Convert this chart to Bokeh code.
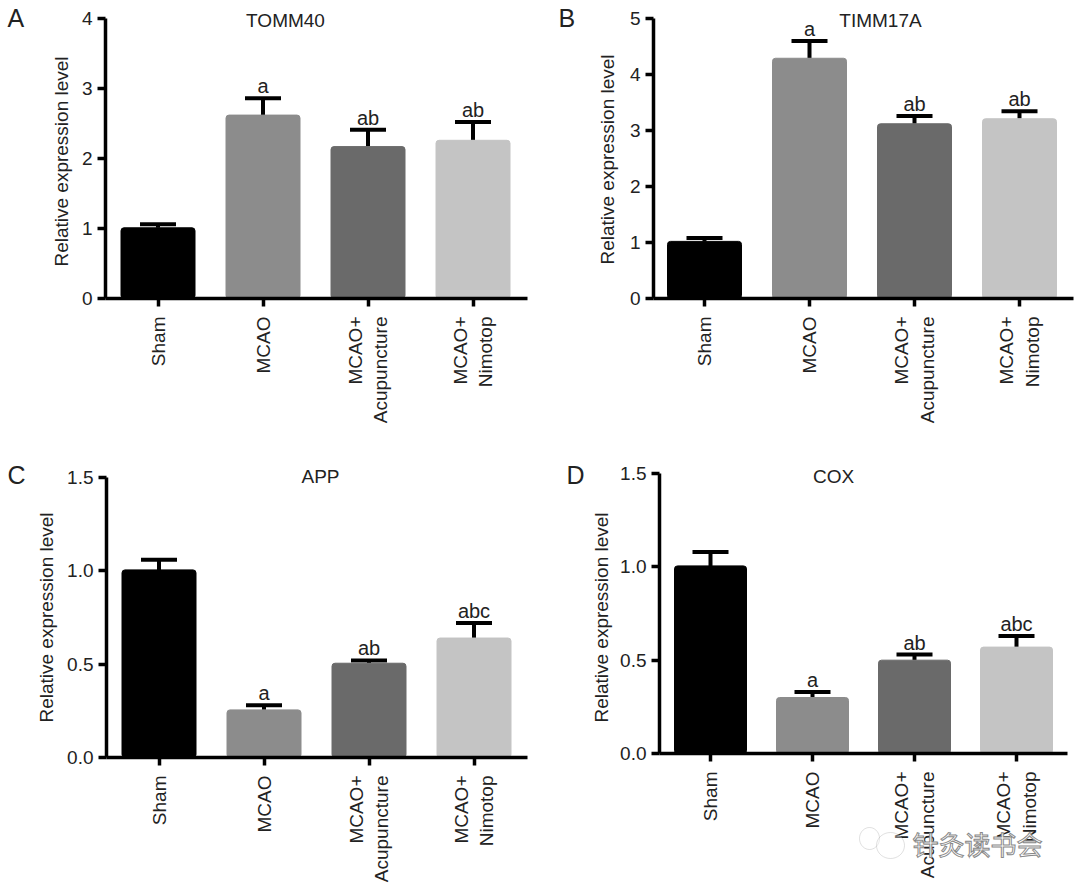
from bokeh.plotting import figure
from bokeh.layouts import column, row
from bokeh.models import Range1d, FixedTicker, Label, Whisker, TeeHead, ColumnDataSource, PolyAnnotation
from bokeh.core.properties import value
from bokeh.embed import file_html
from bokeh.resources import INLINE
import math

categories = ["Sham", "MCAO", "MCAO+\nAcupuncture", "MCAO+\nNimotop"]
positions = [1, 2, 3, 4]
bar_colors = ["#000000", "#8c8c8c", "#6a6a6a", "#c4c4c4"]

values_a = [1.01, 2.62, 2.17, 2.26]
tops_a = [1.06, 2.86, 2.41, 2.52]
marks_a = ["", "a", "ab", "ab"]
ticks_a = [0, 1, 2, 3, 4]

values_b = [1.02, 4.29, 3.12, 3.21]
tops_b = [1.08, 4.6, 3.26, 3.345]
marks_b = ["", "a", "ab", "ab"]
ticks_b = [0, 1, 2, 3, 4, 5]

values_c = [1.005, 0.255, 0.505, 0.64]
tops_c = [1.06, 0.28, 0.52, 0.72]
marks_c = ["", "a", "ab", "abc"]
ticks_c = [0, 0.5, 1.0, 1.5]

values_d = [1.005, 0.3, 0.5, 0.57]
tops_d = [1.08, 0.33, 0.53, 0.63]
marks_d = ["", "a", "ab", "abc"]
ticks_d = [0, 0.5, 1.0, 1.5]

FONT = "Liberation Sans"
INK = "#222222"
SIZE = "19px"


def panel(letter, title, vals, tops, marks, ticks, fmt, box, axis_x, x_end, y0, y_top,
          first_c, step, bar_px, title_xy, letter_xy, ylabel_xy):
    L, T, R, B = box
    vmax = ticks[-1]
    ppu = (y0 - y_top) / vmax

    def dx(px):
        return 1 + (px - first_c) / step

    def dy(py):
        return (y0 - py) / ppu

    p = figure(width=R - L, height=B - T, output_backend="svg", toolbar_location=None,
               min_border=0, x_range=Range1d(dx(L), dx(R)), y_range=Range1d(dy(B), dy(T)))
    p.grid.visible = False
    p.outline_line_color = None
    p.background_fill_color = "white"

    src = ColumnDataSource(dict(x=positions, v=vals, t=tops, m=marks, c=bar_colors))
    p.vbar(x="x", top="v", bottom=0, width=bar_px / step, fill_color="c", line_color="c",
           border_radius=3, source=src)
    p.add_layout(Whisker(base="x", upper="t", lower="v", source=src, line_color="black", line_width=4,
                         upper_head=TeeHead(size=36, line_width=4, line_color="black"), lower_head=None))
    p.text(x="x", y="t", text="m", source=src, text_align="center", text_baseline="alphabetic",
           y_offset=-12, text_font=value(FONT), text_font_size="20px", text_color=INK)

    ax = p.xaxis[0]
    ax.fixed_location = 0
    ax.bounds = (dx(axis_x), dx(x_end))
    ax.ticker = FixedTicker(ticks=positions)
    ax.major_label_overrides = dict(zip(positions, categories))
    ax.major_label_orientation = math.pi / 2
    ax.major_label_standoff = 10
    ax.major_label_text_font = FONT
    ax.major_label_text_font_size = SIZE
    ax.major_label_text_color = INK
    ax.axis_line_width = 3.5
    ax.axis_line_color = "black"
    ax.major_tick_line_width = 3.5
    ax.major_tick_out = 8
    ax.major_tick_in = 0
    ax.minor_tick_line_color = None

    ay = p.yaxis[0]
    ay.fixed_location = dx(axis_x)
    ay.ticker = FixedTicker(ticks=ticks)
    ay.bounds = (0, vmax)
    ay.major_label_overrides = {t: fmt.format(t) for t in ticks}
    ay.major_label_standoff = 5
    ay.major_label_text_font = FONT
    ay.major_label_text_font_size = SIZE
    ay.major_label_text_color = INK
    ay.axis_line_width = 3.5
    ay.axis_line_color = "black"
    ay.major_tick_line_width = 3.5
    ay.major_tick_out = 8
    ay.major_tick_in = 0
    ay.minor_tick_line_color = None

    p.add_layout(Label(x=dx(ylabel_xy[0]), y=dy(ylabel_xy[1]), text="Relative expression level",
                       angle=math.pi / 2, text_align="center", text_baseline="middle", text_font=FONT,
                       text_font_size=SIZE, text_color=INK))
    p.add_layout(Label(x=dx(title_xy[0]), y=dy(title_xy[1]), text=title, text_align="center",
                       text_baseline="middle", text_font=FONT, text_font_size=SIZE, text_color=INK))
    p.add_layout(Label(x=dx(letter_xy[0]), y=dy(letter_xy[1]), text=letter, text_align="left",
                       text_baseline="middle", text_font=FONT, text_font_size="25px", text_color=INK))
    return p, dx, dy


pa, _, _ = panel("A", "TOMM40", values_a, tops_a, marks_a, ticks_a, "{:d}", (0, 0, 540, 448),
                 105, 527, 298, 18, 157.5, 105, 74, (285, 20), (7, 17), (61, 161))
pb, _, _ = panel("B", "TIMM17A", values_b, tops_b, marks_b, ticks_b, "{:d}", (540, 0, 1080, 448),
                 653, 1073, 298, 18, 704, 105, 74, (880, 20), (558, 17), (607, 159))
pc, _, _ = panel("C", "APP", values_c, tops_c, marks_c, ticks_c, "{:.1f}", (0, 448, 540, 889),
                 106, 527, 757, 477, 158.5, 105, 74, (320, 476), (7, 474), (46, 617))
pd, dx, dy = panel("D", "COX", values_d, tops_d, marks_d, ticks_d, "{:.1f}", (540, 448, 1080, 889),
                   659, 1067, 753, 473, 710, 102, 72, (833, 476), (566, 474), (601, 617))

# watermark
for cx, cy, rx, ry in [(869, 838, 10, 11), (890, 845, 14, 13)]:
    xs = [dx(cx + rx * math.cos(i * math.pi / 18)) for i in range(36)]
    ys = [dy(cy + ry * math.sin(i * math.pi / 18)) for i in range(36)]
    pd.add_layout(PolyAnnotation(xs=xs, ys=ys, fill_color="white", fill_alpha=0.35,
                                 line_color="#999999", line_width=1))
pd.add_layout(Label(x=dx(912), y=dy(843), text="针灸读书会", text_align="left", text_baseline="middle",
                    text_font="Noto Sans CJK SC", text_font_size="26px", text_color="#ffffff",
                    text_outline_color="#888888"))

page = column(row(pa, pb, spacing=0), row(pc, pd, spacing=0), spacing=0)
open("out.html", "w").write(file_html(page, INLINE))
